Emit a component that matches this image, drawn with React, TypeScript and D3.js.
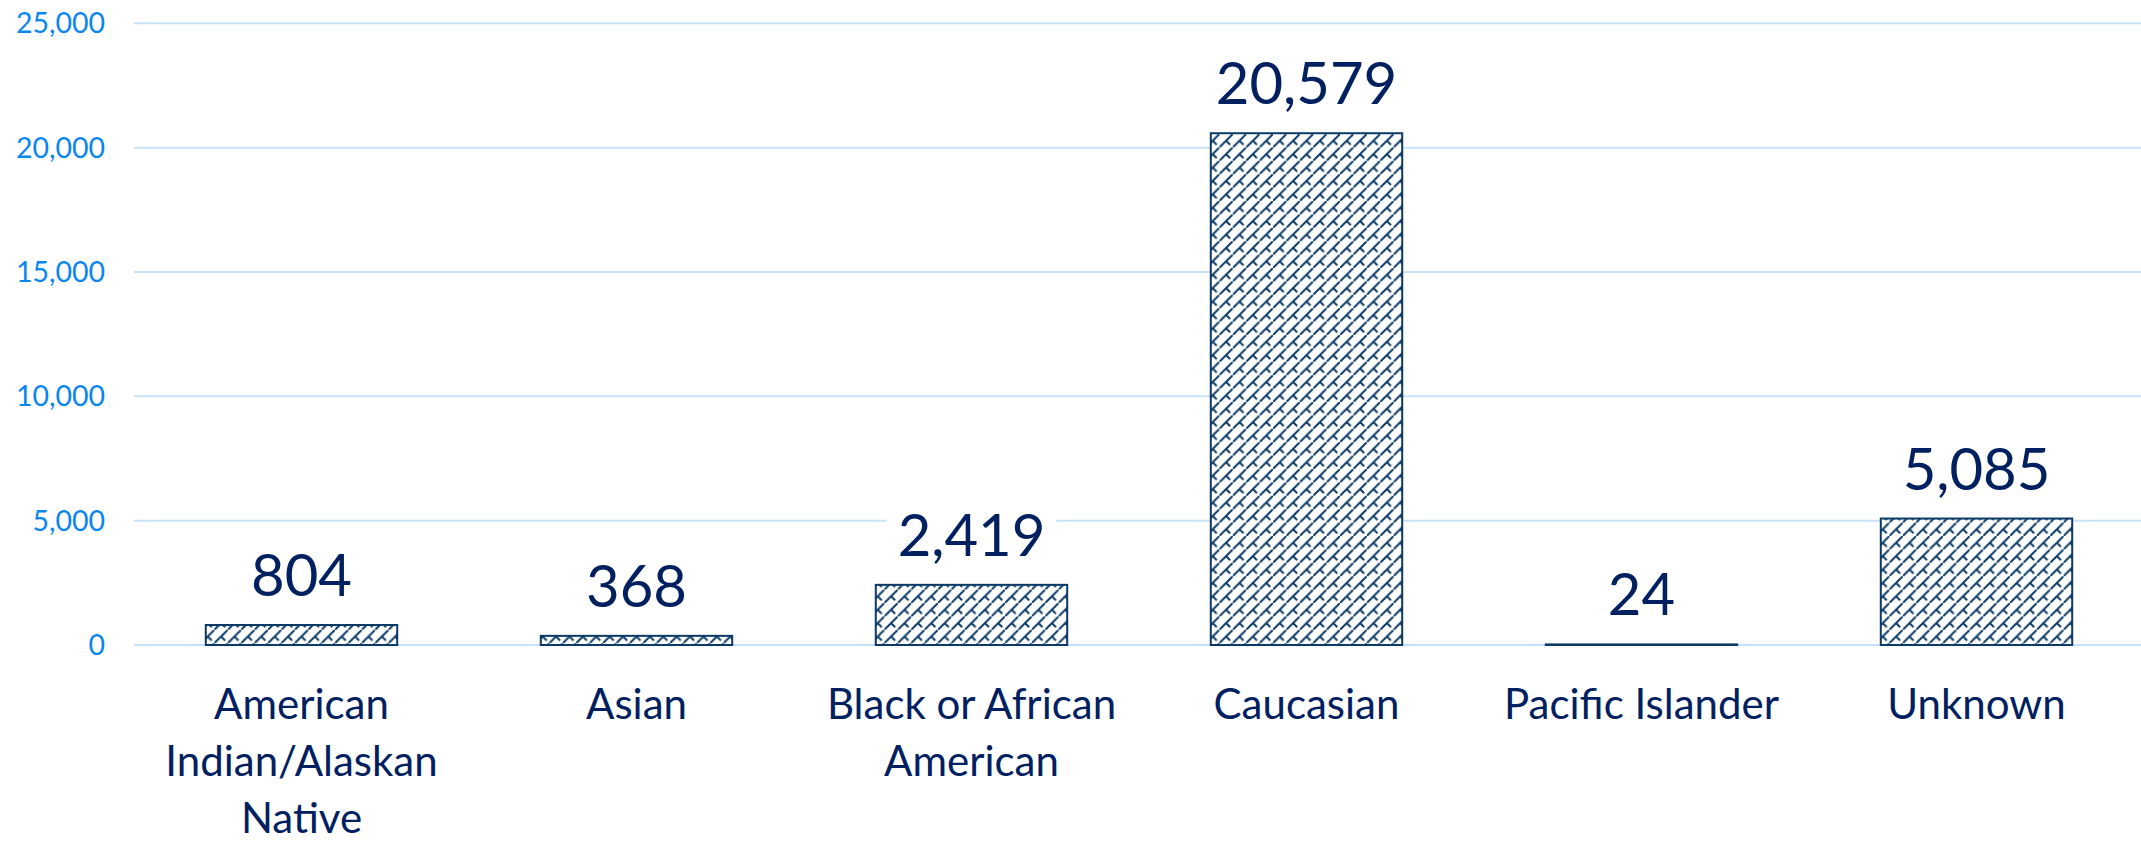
import React, { useEffect, useRef } from "react";
import * as d3 from "d3";

const categories = [
  "American Indian/Alaskan Native",
  "Asian",
  "Black or African American",
  "Caucasian",
  "Pacific Islander",
  "Unknown",
];
const categoryLines = [
  ["American", "Indian/Alaskan", "Native"],
  ["Asian"],
  ["Black or African", "American"],
  ["Caucasian"],
  ["Pacific Islander"],
  ["Unknown"],
];
const values = [804, 368, 2419, 20579, 24, 5085];
const yTicks = [0, 5000, 10000, 15000, 20000, 25000];

const W = 2141;
const H = 842;
const FONT = "Lato, 'Open Sans', sans-serif";
const NAVY = "#002060";
const BAR = "#0b3a66";

export default function App() {
  const ref = useRef<SVGSVGElement | null>(null);

  useEffect(() => {
    const svg = d3.select(ref.current);
    svg.selectAll("*").remove();

    const x = d3
      .scaleBand<string>()
      .domain(categories)
      .range([134, 2144])
      .paddingInner(0.75 / 1.75)
      .paddingOuter(0.75 / 1.75 / 2);
    const y = d3.scaleLinear().domain([0, 25000]).range([645, 23.3]);

    const defs = svg.append("defs");
    const T = 13.4;
    const pat = defs
      .append("pattern")
      .attr("id", "brick")
      .attr("patternUnits", "userSpaceOnUse")
      .attr("width", T)
      .attr("height", T);
    pat.append("rect").attr("width", T).attr("height", T).attr("fill", "#fff");
    pat
      .append("path")
      .attr(
        "d",
        `M${-1},${T + 1}L${T + 1},${-1}M${T / 2},${T / 2}L${T * 0.8},${T * 0.8}`
      )
      .attr("stroke", BAR)
      .attr("stroke-width", 2)
      .attr("fill", "none");

    // gridlines
    svg
      .append("g")
      .selectAll("line")
      .data(yTicks)
      .join("line")
      .attr("x1", 134)
      .attr("x2", W)
      .attr("y1", (d) => y(d))
      .attr("y2", (d) => y(d))
      .attr("stroke", "#c7e2f8")
      .attr("stroke-width", 2);

    // tick labels
    svg
      .append("g")
      .selectAll("text")
      .data(yTicks)
      .join("text")
      .attr("x", 105)
      .attr("y", (d) => y(d) + 10)
      .attr("text-anchor", "end")
      .attr("font-family", FONT)
      .attr("font-size", 28.5)
      .attr("fill", "#0a86ee")
      .text((d) => d3.format(",")(d));

    // bars
    svg
      .append("g")
      .selectAll("rect")
      .data(values)
      .join("rect")
      .attr("x", (_, i) => x(categories[i])!)
      .attr("width", x.bandwidth())
      .attr("y", (d) => y(d))
      .attr("height", (d) => y(0) - y(d))
      .attr("fill", "url(#brick)")
      .attr("stroke", BAR)
      .attr("stroke-width", 2);

    // value labels with white background
    const lab = svg.append("g");
    values.forEach((v, i) => {
      const cx = x(categories[i])! + x.bandwidth() / 2;
      const by = y(v) - 29;
      const bg = lab.append("rect");
      const t = lab
        .append("text")
        .attr("x", cx)
        .attr("y", by)
        .attr("text-anchor", "middle")
        .attr("font-family", FONT)
        .attr("font-size", 58)
        .attr("fill", NAVY)
        .text(d3.format(",")(v));
      const bb = (t.node() as SVGTextElement).getBBox();
      bg.attr("x", bb.x - 11)
        .attr("width", bb.width + 22)
        .attr("y", by - 50)
        .attr("height", 64)
        .attr("fill", "#fff");
    });

    // category labels
    const cat = svg.append("g");
    categoryLines.forEach((lines, i) => {
      const cx = x(categories[i])! + x.bandwidth() / 2;
      const t = cat
        .append("text")
        .attr("text-anchor", "middle")
        .attr("font-family", FONT)
        .attr("font-size", 42)
        .attr("fill", NAVY);
      lines.forEach((ln, j) => {
        t.append("tspan")
          .attr("x", cx)
          .attr("y", 719 + j * 57)
          .text(ln);
      });
    });
  }, []);

  return (
    <>
      <style>{`body{margin:0;background:#fff}`}</style>
      <svg ref={ref} width={W} height={H} style={{ display: "block" }} />
    </>
  );
}
